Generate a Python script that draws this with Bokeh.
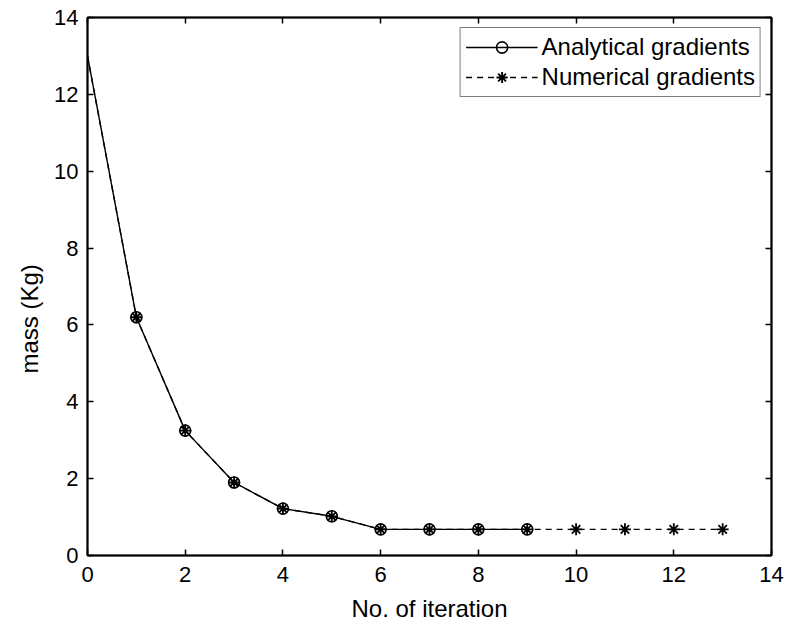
import math
from bokeh.plotting import figure
from bokeh.models import (LinearAxis, Range1d, Legend, LegendItem, Title,
                          FixedTicker)
from bokeh.embed import file_html
from bokeh.resources import INLINE

# ---- data ----
iterations = [0, 1, 2, 3, 4, 5, 6, 7, 8, 9, 10, 11, 12, 13]
analytical_mass = [13.0, 6.2, 3.25, 1.9, 1.22, 1.02, 0.68, 0.68, 0.68, 0.68]
numerical_mass = [13.0, 6.2, 3.25, 1.9, 1.22, 1.02, 0.68, 0.68, 0.68, 0.68,
                  0.68, 0.68, 0.68, 0.68]
x_ticks = [0, 2, 4, 6, 8, 10, 12, 14]
y_ticks = [0, 2, 4, 6, 8, 10, 12, 14]
x_title = "No. of iteration"
y_title = "mass (Kg)"
series_names = ["Analytical gradients", "Numerical gradients"]

FONT = "Liberation Sans"

p = figure(width=786, height=631, output_backend="svg", toolbar_location=None,
           x_range=Range1d(0, 14), y_range=Range1d(0, 14),
           min_border_left=87, min_border_right=15,
           min_border_top=17, min_border_bottom=76)
p.xgrid.visible = False
p.ygrid.visible = False
p.outline_line_color = "black"
p.outline_line_width = 1.5
p.background_fill_color = "white"
p.border_fill_color = "white"

bottom_axis = p.below[0]
left_axis = p.left[0]
top_axis = LinearAxis()
right_axis = LinearAxis()
p.add_layout(top_axis, "above")
p.add_layout(right_axis, "right")

for ax, ticks in ((bottom_axis, x_ticks), (left_axis, y_ticks),
                  (top_axis, x_ticks), (right_axis, y_ticks)):
    ax.ticker = FixedTicker(ticks=ticks)
    ax.axis_line_color = "black"
    ax.axis_line_width = 2
    ax.major_tick_in = 6
    ax.major_tick_out = 0
    ax.major_tick_line_color = "black"
    ax.major_tick_line_width = 1.5
    ax.minor_tick_line_color = None
    ax.major_label_text_font = FONT
    ax.major_label_text_font_size = "22px"
    ax.major_label_text_color = "black"

for ax in (top_axis, right_axis):
    ax.major_label_text_color = None
    ax.major_label_text_font_size = "1px"
    ax.major_label_standoff = 0

bottom_axis.major_label_standoff = 11
left_axis.major_label_standoff = 9

bottom_axis.axis_label = x_title
bottom_axis.axis_label_text_font = FONT
bottom_axis.axis_label_text_font_size = "24px"
bottom_axis.axis_label_text_font_style = "normal"
bottom_axis.axis_label_text_color = "black"
bottom_axis.axis_label_standoff = 10

# y title placed a little below the frame centre, as in the reference
ytitle = Title(text=y_title, align="left", offset=182,
               text_font=FONT, text_font_size="24px",
               text_font_style="normal", text_color="black", standoff=18)
p.add_layout(ytitle, "left")

# ---- series ----
a_line = p.line(iterations[:len(analytical_mass)], analytical_mass,
                line_color="black", line_width=1.4)
a_mark = p.scatter(iterations[1:len(analytical_mass)], analytical_mass[1:],
                   marker="circle", size=11, fill_color=None,
                   line_color="black", line_width=1.6)
n_line = p.line(iterations, numerical_mass, line_color="black",
                line_width=1.4, line_dash="6 5")
n_mark = p.scatter(iterations[1:], numerical_mass[1:], marker="asterisk",
                   size=12, line_color="black", line_width=1.8)

legend = Legend(items=[
    LegendItem(label=series_names[0], renderers=[a_line, a_mark]),
    LegendItem(label=series_names[1], renderers=[n_line, n_mark]),
], location="top_right")
legend.margin = 10
legend.padding = 5
legend.spacing = 2
legend.glyph_width = 72
legend.glyph_height = 28
legend.label_height = 28
legend.label_standoff = 4
legend.label_text_font = FONT
legend.label_text_font_size = "24px"
legend.label_text_color = "black"
legend.border_line_color = "black"
legend.border_line_width = 1.2
legend.background_fill_color = "white"
legend.background_fill_alpha = 1.0
p.add_layout(legend)

open("out.html", "w").write(file_html(p, INLINE))
